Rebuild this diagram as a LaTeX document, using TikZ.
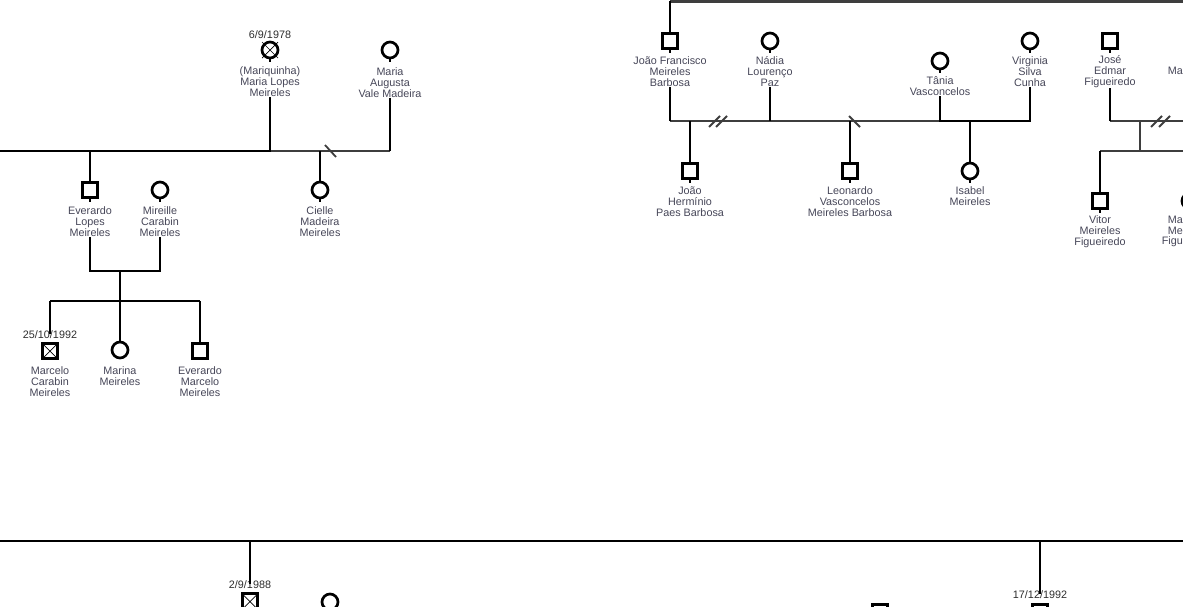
\documentclass[tikz,border=0pt]{standalone}
\usepackage{fontspec}
\setmainfont{Liberation Sans}
\definecolor{txt}{RGB}{70,70,88}
\definecolor{datec}{RGB}{45,45,45}
\definecolor{mar}{RGB}{62,62,62}
\tikzset{
  male/.style={draw=black, rectangle, line width=2.7pt, minimum size=15.5pt, inner sep=0pt},
  female/.style={draw=black, circle, line width=2.7pt, minimum size=16pt, inner sep=0pt},
  dead/.style={path picture={\draw[line width=0.7pt, black]
      (path picture bounding box.north west) -- (path picture bounding box.south east)
      (path picture bounding box.south west) -- (path picture bounding box.north east);}},
  pname/.style={font=\fontsize{10.8}{11}\selectfont, text=txt, align=center, inner sep=0pt},
  pdate/.style={font=\fontsize{10.8}{11}\selectfont, text=datec, inner sep=0pt},
  desc/.style={line width=2.9pt, black, line join=miter},
  marr/.style={line width=2.9pt, mar},
  divmark/.style={line width=1.8pt, mar},
  stub/.style={line width=2.4pt, black}
}
\begin{document}
\begin{tikzpicture}[x=1pt, y=-1pt]
\useasboundingbox (0,0) rectangle (1183,606);
\clip (0,0) rectangle (1183,606);

% ===== top-left family =====
\node[pdate] (dMl) at (270,35) {6/9/1978};
\node[female] (mlm) at (270,50) {};
\draw[line width=0.7pt, black] ([shift={(-8,-8)}]mlm.center) -- ([shift={(8,8)}]mlm.center)
      ([shift={(-8,8)}]mlm.center) -- ([shift={(8,-8)}]mlm.center);
\node[pname] (mlmN) at (270,82) {(Mariquinha)\\Maria Lopes\\Meireles};
\node[female] (mav) at (390,50) {};
\node[pname] (mavN) at (390,82.5) {Maria\\Augusta\\Vale Madeira};
\draw[stub] (mlm.south) -- ++(0,2.5);
\draw[stub] (mav.south) -- ++(0,2.5);

\coordinate (l0) at (0,151);
\coordinate (j1) at (270,151);
\coordinate (j2) at (390,151);
\coordinate (e1) at (90,151);
\coordinate (ci) at (320,151);
\draw[marr] (j1) -- (j2);
\draw[desc] (l0) -- (j1) -- (mlmN.south);
\draw[desc] (mavN.south) -- (j2);
\draw[divmark] (325,145) -- (336,157);

\node[male] (evr) at (90,190) {};
\node[pname] (evrN) at (90,222) {Everardo\\Lopes\\Meireles};
\node[female] (mir) at (160,190) {};
\node[pname] (mirN) at (160,222) {Mireille\\Carabin\\Meireles};
\node[female] (cie) at (320,190) {};
\node[pname] (cieN) at (320,222) {Cielle\\Madeira\\Meireles};
\draw[desc] (e1) -- (evr);
\draw[desc] (ci) -- (cie);
\draw[stub] (evr.south) -- ++(0,2.5);
\draw[stub] (mir.south) -- ++(0,2.5);
\draw[stub] (cie.south) -- ++(0,2.5);

\coordinate (c1l) at (90,271);
\coordinate (c1r) at (160,271);
\coordinate (c1m) at (120,271);
\coordinate (s1m) at (120,301);
\coordinate (s1l) at (50,301);
\coordinate (s1r) at (200,301);
\draw[desc] (evrN.south) -- (c1l) -- (c1r) -- (mirN.south);
\draw[desc] (c1m) -- (s1m);
\draw[desc] (s1l) -- (s1r);

\node[pdate] (dMc) at (50,335) {25/10/1992};
\node[male, dead] (mcl) at (50,351) {};
\node[pname] (mclN) at (50,382) {Marcelo\\Carabin\\Meireles};
\node[female] (mrn) at (120,350) {};
\node[pname] (mrnN) at (120,376.5) {Marina\\Meireles};
\node[male] (evm) at (200,351) {};
\node[pname] (evmN) at (200,382) {Everardo\\Marcelo\\Meireles};
\draw[desc] (s1l) -- ([yshift=-3pt]dMc.north);
\draw[desc] (s1m) -- (mrn);
\draw[desc] (s1r) -- (evm);

% ===== top-right family =====
\coordinate (t0) at (670,1.4);
\coordinate (tR) at (1183,1.4);
\node[male] (jfm) at (670,41) {};
\node[pname] (jfmN) at (670,72) {João Francisco\\Meireles\\Barbosa};
\node[female] (nad) at (770,41) {};
\node[pname] (nadN) at (770,72) {Nádia\\Lourenço\\Paz};
\draw[marr] (t0) -- (tR);
\draw[desc] (t0) -- (jfm);
\draw[stub] (jfm.south) -- ++(0,2.5);
\draw[stub] (nad.south) -- ++(0,2.5);

\coordinate (m1) at (670,121);
\coordinate (m2) at (770,121);
\coordinate (m3) at (940,121);
\coordinate (m4) at (1030,121);
\coordinate (h1) at (690,121);
\coordinate (h2) at (850,121);
\coordinate (h3) at (970,121);
\draw[marr] (m1) -- (m3);
\draw[desc] (jfmN.south) -- (m1);
\draw[desc] (nadN.south) -- (m2);
\draw[divmark] (709,127) -- (720,116) (716,127) -- (727,116);
\draw[divmark] (849,116) -- (860,127);

\node[female] (tan) at (940,61) {};
\node[pname] (tanN) at (940,86.5) {Tânia\\Vasconcelos};
\node[female] (vir) at (1030,41) {};
\node[pname] (virN) at (1030,72) {Virginia\\Silva\\Cunha};
\draw[stub] (tan.south) -- ++(0,2.5);
\draw[stub] (vir.south) -- ++(0,2.5);
\draw[desc] (tanN.south) -- (m3) -- (m4) -- (virN.south);

\node[male] (jhp) at (690,171) {};
\node[pname] (jhpN) at (690,202) {João\\Hermínio\\Paes Barbosa};
\node[male] (leo) at (850,171) {};
\node[pname] (leoN) at (850,202) {Leonardo\\Vasconcelos\\Meireles Barbosa};
\node[female] (isa) at (970,171) {};
\node[pname] (isaN) at (970,196.5) {Isabel\\Meireles};
\draw[desc] (h1) -- (jhp);
\draw[desc] (h2) -- (leo);
\draw[desc] (h3) -- (isa);
\draw[stub] (jhp.south) -- ++(0,2.5);
\draw[stub] (leo.south) -- ++(0,2.5);
\draw[stub] (isa.south) -- ++(0,2.5);

\node[male] (jos) at (1110,41) {};
\node[pname] (josN) at (1110,72) {José\\Edmar\\Figueiredo};
\node[pname, anchor=east] (maT) at (1183,71) {Ma};
\draw[stub] (jos.south) -- ++(0,2.5);
\coordinate (q1) at (1110,121);
\coordinate (q2) at (1183,121);
\coordinate (q3) at (1140,121);
\coordinate (q4) at (1140,151);
\coordinate (s2l) at (1100,151);
\coordinate (s2r) at (1183,151);
\draw[marr] (q1) -- (q2);
\draw[desc] (josN.south) -- (q1);
\draw[divmark] (1151,127) -- (1162,116) (1159,127) -- (1170,116);
\draw[marr] (q3) -- (q4);
\draw[marr] (s2r) -- (s2l);

\node[male] (vit) at (1100,201) {};
\node[pname] (vitN) at (1100,232) {Vitor\\Meireles\\Figueiredo};
\draw[desc] (s2l) -- (vit);
\draw[stub] (vit.south) -- ++(0,2.5);
\node[female] (mar2) at (1190,201) {};
\node[pname, anchor=east] (mar2a) at (1183,220) {Ma};
\node[pname, anchor=east] (mar2b) at (1183,231) {Me};
\node[pname, anchor=east] (mar2c) at (1183,242) {Figu};

% ===== bottom family =====
\coordinate (b0) at (0,541);
\coordinate (b1) at (1183,541);
\coordinate (bA) at (250,541);
\coordinate (bB) at (1040,541);
\draw[desc] (b0) -- (b1);
\node[pdate] (dB1) at (250,585) {2/9/1988};
\node[male, dead] (bx1) at (250,601.5) {};
\node[female] (bc1) at (330,602) {};
\node[male] (bs1) at (880,612) {};
\node[pdate] (dB2) at (1040,595) {17/12/1992};
\node[male] (bs2) at (1040,612) {};
\draw[desc] (bA) -- ([yshift=-3pt]dB1.north);
\draw[desc] (bB) -- ([yshift=-3pt]dB2.north);
\end{tikzpicture}
\end{document}
